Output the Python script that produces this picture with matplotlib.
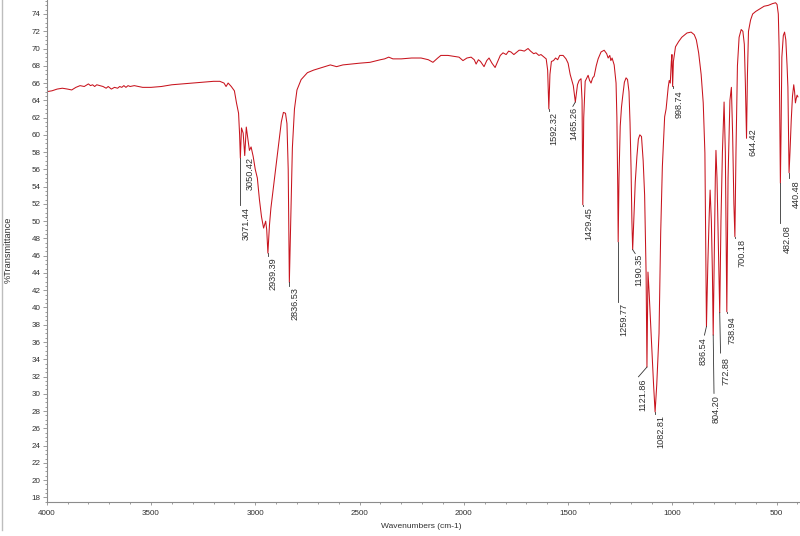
import matplotlib
matplotlib.use("Agg")
import matplotlib.pyplot as plt
from matplotlib.ticker import MultipleLocator
from matplotlib.lines import Line2D
import matplotlib.transforms as mtransforms

plt.rcParams['font.family'] = ['Liberation Sans', 'DejaVu Sans']

# ---------------- data ----------------
wavenumber = [
    4000, 3975, 3950, 3925, 3900, 3880, 3860, 3840, 3820, 3800, 3790, 3780, 3770, 3760,
    3745, 3730, 3715, 3705, 3690, 3675, 3660, 3650, 3640, 3630, 3620, 3610, 3600, 3580,
    3560, 3540, 3500, 3450, 3400, 3350, 3300, 3250, 3200, 3170, 3150, 3140, 3130, 3115,
    3100, 3090, 3080, 3075, 3071.44, 3066, 3058, 3050.42, 3043, 3035, 3028, 3020, 3010,
    3000, 2990, 2980, 2970, 2960, 2950, 2945, 2939.39, 2932, 2925, 2915, 2905, 2895,
    2885, 2875, 2865, 2855, 2848, 2842, 2836.53, 2830, 2822, 2812, 2800, 2780, 2750,
    2720, 2680, 2640, 2610, 2580, 2540, 2500, 2450, 2400, 2380, 2360, 2340, 2300, 2250,
    2205, 2170, 2148, 2125, 2110, 2076, 2050, 2023, 2004, 1985, 1965, 1950, 1941, 1930,
    1920, 1903, 1890, 1879, 1865, 1850, 1836, 1825, 1812, 1797, 1785, 1774, 1760, 1750,
    1735, 1726, 1710, 1692, 1680, 1665, 1654, 1640, 1630, 1615, 1605, 1598, 1592.32,
    1587, 1580, 1570, 1560, 1550, 1540, 1524, 1510, 1500, 1490, 1482, 1475, 1465.26,
    1455, 1447, 1438, 1433, 1429.45, 1425, 1418, 1410, 1404, 1397, 1390, 1382, 1375,
    1365, 1356, 1342, 1327, 1315, 1308, 1300, 1295, 1289, 1279, 1270, 1266, 1262,
    1259.77, 1256, 1250, 1244, 1238, 1230, 1222, 1215, 1208, 1203, 1198, 1194, 1190.35,
    1185, 1178, 1170, 1163, 1156, 1148, 1140, 1133, 1126, 1121.86, 1117, 1112, 1100,
    1090, 1082.81, 1075, 1064, 1056, 1048, 1037, 1030, 1020, 1015, 1010, 1005, 1002,
    998.74, 995, 985, 970, 955, 930, 910, 895, 885, 874, 862, 852, 844, 836.54, 830,
    823, 819, 813, 808, 804.20, 799, 794, 791, 786, 779, 772.88, 767, 760, 752, 746,
    738.94, 733, 724, 717, 711, 705, 700.18, 695, 688, 680, 670, 662, 655, 650, 644.42,
    640, 635, 625, 615, 600, 580, 560, 540, 520, 505, 498, 492, 488, 484, 482.08, 479,
    475, 468, 462, 456, 450, 446, 440.48, 436, 430, 424, 418, 414, 410, 406, 402, 398,
]
transmittance = [
    65.0, 65.1, 65.3, 65.4, 65.3, 65.2, 65.5, 65.7, 65.6, 65.9, 65.7, 65.8, 65.6, 65.8,
    65.7, 65.6, 65.4, 65.6, 65.3, 65.5, 65.4, 65.6, 65.5, 65.7, 65.5, 65.7, 65.6, 65.7,
    65.6, 65.5, 65.5, 65.6, 65.8, 65.9, 66.0, 66.1, 66.2, 66.2, 66.0, 65.6, 66.0, 65.6,
    65.1, 63.7, 62.5, 60.0, 57.3, 60.8, 60.2, 57.6, 60.9, 59.5, 58.2, 58.6, 57.5,
    56.0, 55.0, 52.5, 50.5, 49.2, 50.0, 49.0, 46.3, 49.5, 51.5, 53.5, 55.5, 57.5,
    59.5, 61.5, 62.6, 62.5, 61.3, 56.0, 42.9, 50.0, 58.5, 63.0, 65.2, 66.4, 67.2,
    67.5, 67.8, 68.1, 67.9, 68.1, 68.2, 68.3, 68.4, 68.7, 68.8, 69.0, 68.8, 68.8, 68.9,
    68.9, 68.7, 68.4, 68.9, 69.2, 69.2, 69.1, 69.0, 68.6, 68.9, 69.0, 68.7, 68.2, 68.7,
    68.5, 67.9, 68.6, 68.9, 68.3, 67.8, 68.6, 69.2, 69.5, 69.3, 69.7, 69.6, 69.3, 69.5,
    69.8, 69.8, 69.7, 70.0, 69.7, 69.4, 69.5, 69.2, 69.3, 69.0, 68.8, 67.5, 63.0,
    67.0, 68.5, 68.6, 68.9, 68.7, 69.2, 69.2, 68.8, 68.3, 67.0, 66.3, 65.7, 63.8,
    65.8, 66.3, 66.5, 64.0, 51.9, 62.0, 66.2, 66.6, 66.9, 66.3, 66.0, 66.6, 66.8,
    68.0, 68.8, 69.6, 69.8, 69.4, 68.9, 69.2, 68.6, 68.9, 68.1, 66.0, 62.0, 54.0,
    47.6, 55.0, 61.0, 63.2, 64.5, 66.1, 66.6, 66.4, 65.0, 61.4, 56.0, 50.0, 46.7,
    50.0, 54.5, 57.5, 59.5, 60.0, 59.8, 57.0, 53.0, 44.0, 33.1, 44.1, 42.0, 36.0,
    31.0, 27.9, 31.0, 37.0, 48.6, 56.3, 62.1, 63.0, 65.5, 66.3, 66.0, 68.5, 69.3,
    65.6, 68.5, 70.2, 70.8, 71.3, 71.8, 71.9, 71.6, 71.0, 69.5, 67.0, 63.7, 57.9, 37.8, 45.0,
    51.0, 53.6, 50.0, 44.0, 36.8, 46.0, 55.0, 58.2, 55.0, 47.0, 39.4, 50.0, 58.0, 63.8, 58.0,
    39.5, 55.0, 64.0, 65.5, 60.0, 52.0, 48.2, 58.0, 68.0, 71.3, 72.2, 72.0, 70.5, 66.0, 59.6,
    67.0, 72.0, 73.3, 74.0, 74.3, 74.6, 74.9, 75.0, 75.2, 75.3, 75.1, 74.0, 70.0, 60.0, 54.4, 60.0,
    69.0, 71.5, 71.9, 71.0, 68.0, 65.5, 55.6, 58.0, 61.7, 64.5, 65.8, 65.0, 63.7, 64.2, 64.6, 64.4,
]

peak_labels = ["3071.44", "3050.42", "2939.39", "2836.53", "1592.32", "1465.26",
               "1429.45", "1259.77", "1190.35", "1121.86", "1082.81", "998.74",
               "836.54", "804.20", "772.88", "738.94", "700.18", "644.42",
               "482.08", "440.48"]
peak_wn = [3071.44, 3050.42, 2939.39, 2836.53, 1592.32, 1465.26, 1429.45, 1259.77,
           1190.35, 1121.86, 1082.81, 998.74, 836.54, 804.20, 772.88, 738.94, 700.18,
           644.42, 482.08, 440.48]

# ---------------- label layout (line end value, text top value, line-end dx px, text dx px) ----
label_layout = [
    (51.87, 51.64, 0, 5.5), (57.55, 57.43, 0, 5.5), (45.95, 45.84, 0, 5.5),
    (42.50, 42.37, 0, 6.0), (62.75, 62.64, 0, 5.5), (63.3, 63.2, -2.5, -1.0),
    (51.75, 51.64, 0, 6.0), (40.66, 40.51, 0, 5.7), (46.25, 46.19, 2.5, 6.6),
    (31.97, 31.82, -8.5, -4.5), (27.7, 27.53, 0, 6.0), (65.4, 65.19, 0, 6.3),
    (36.8, 36.6, -2.0, -3.0), (30.05, 29.85, 0.8, 3.3), (34.72, 34.26, 0.8, 6.0),
    (39.35, 39.0, 0, 4.8), (48.1, 47.93, 0, 6.7), (59.6, 60.79, 0, 6.0),
    (49.78, 49.55, 0, 7.0), (55.0, 54.77, 0, 7.4),
]

W, H = 800, 536
fig = plt.figure(figsize=(W / 100, H / 100), dpi=100)
left_px, bottom_px = 46.7, 502.4
ax = fig.add_axes([left_px / W, (H - bottom_px) / H, (W - left_px) / W, bottom_px / H])

ax.plot(wavenumber, transmittance, color='#c8141e', lw=0.75, antialiased=True)

ax.set_xlim(4000, 388)
ax.set_ylim(17.42, 75.62)

ax.xaxis.set_major_locator(MultipleLocator(500))
ax.xaxis.set_minor_locator(MultipleLocator(100))
ax.yaxis.set_major_locator(MultipleLocator(2))
ax.yaxis.set_minor_locator(MultipleLocator(0.5))

for s in ['top', 'right']:
    ax.spines[s].set_visible(False)
for s in ['left', 'bottom']:
    ax.spines[s].set_color('#8c8c8c')
    ax.spines[s].set_linewidth(0.8)

ax.tick_params(axis='both', which='both', colors='#8c8c8c', labelcolor='#303030',
               labelsize=5.8, width=0.6)
ax.tick_params(axis='y', which='major', length=3, pad=1.5)
ax.tick_params(axis='y', which='minor', length=1.5)
ax.tick_params(axis='x', which='major', length=2.5, pad=3.2)
ax.tick_params(axis='x', which='minor', length=1.5)

# peak annotations
for lab, wn, (yl, yt, dxl, dxt) in zip(peak_labels, peak_wn, label_layout):
    idx = wavenumber.index(wn)
    yp = transmittance[idx]
    # line from peak tip to label
    tr_l = mtransforms.offset_copy(ax.transData, fig=fig, x=dxl * 0.72, y=0, units='points')
    p0 = ax.transData.transform((wn, yp))
    p1 = tr_l.transform((wn, yl))
    inv = ax.transData.inverted()
    q0 = inv.transform(p0)
    q1 = inv.transform(p1)
    ax.plot([q0[0], q1[0]], [q0[1], q1[1]], color='#333333', lw=0.6, clip_on=False)
    tr_t = mtransforms.offset_copy(ax.transData, fig=fig, x=dxt * 0.72, y=0, units='points')
    ax.text(wn, yt, lab, transform=tr_t, rotation=90, ha='center', va='top',
            fontsize=6.6, color='#303030', clip_on=False)

fig.text(8 / W, 1 - 250 / H, '%Transmittance', rotation=90, ha='center', va='center',
         fontsize=6.6, color='#303030')
fig.text(421.5 / W, 1 - 526 / H, 'Wavenumbers (cm-1)', ha='center', va='center',
         fontsize=6.0, color='#303030')

fig.add_artist(Line2D([2 / W, 2 / W], [1 - 530 / H, 1], transform=fig.transFigure,
                      color='#bdbdbd', lw=1.0))

fig.savefig('out.png', dpi=100)
